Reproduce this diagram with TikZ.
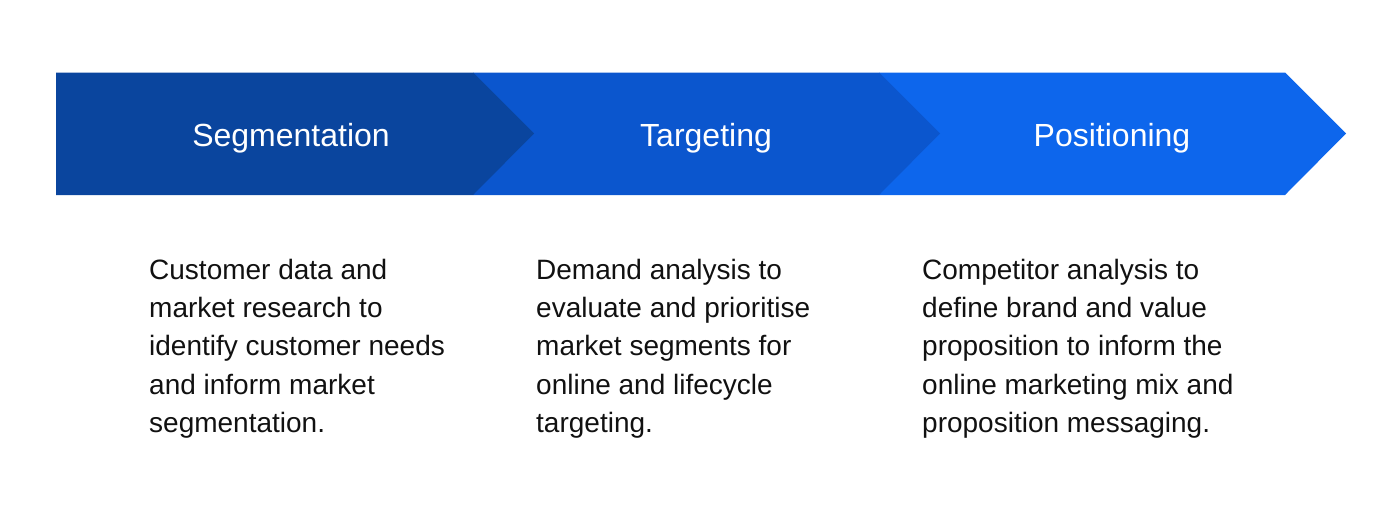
\documentclass[tikz,border=0pt]{standalone}
\usepackage{fontspec}
\setmainfont{Liberation Sans}
\definecolor{cA}{RGB}{10,69,158}
\definecolor{cB}{RGB}{11,86,206}
\definecolor{cC}{RGB}{13,102,236}
\definecolor{txt}{RGB}{17,17,17}
\begin{document}
\begin{tikzpicture}[x=1pt,y=-1pt,
  head/.style={text=white,font=\fontsize{32}{38}\selectfont,inner sep=0pt,anchor=base},
  body/.style={text=txt,font=\fontsize{28}{38.4}\selectfont,align=left,inner sep=0pt,anchor=base west}]
\useasboundingbox (0,0) rectangle (1400,528);
\fill[cC] (879,72.5) -- (1285,72.5) -- (1346,133.5) -- (1285,195) -- (879,195) -- cycle;
\fill[cB] (473,72.5) -- (879,72.5) -- (940,133.5) -- (879,195) -- (473,195) -- cycle;
\fill[cA] (56,72.5) -- (473,72.5) -- (534,133.5) -- (473,195) -- (56,195) -- cycle;
\node[head] (h1) at (291,146) {Segmentation};
\node[head] (h2) at (706,146) {Targeting};
\node[head] (h3) at (1112,146) {Positioning};
\node[body] (b1) at (149,432.6) {Customer data and\\market research to\\identify customer needs\\and inform market\\segmentation.};
\node[body] (b2) at (536,432.6) {Demand analysis to\\evaluate and prioritise\\market segments for\\online and lifecycle\\targeting.};
\node[body] (b3) at (922,432.6) {Competitor analysis to\\define brand and value\\proposition to inform the\\online marketing mix and\\proposition messaging.};
\end{tikzpicture}
\end{document}
